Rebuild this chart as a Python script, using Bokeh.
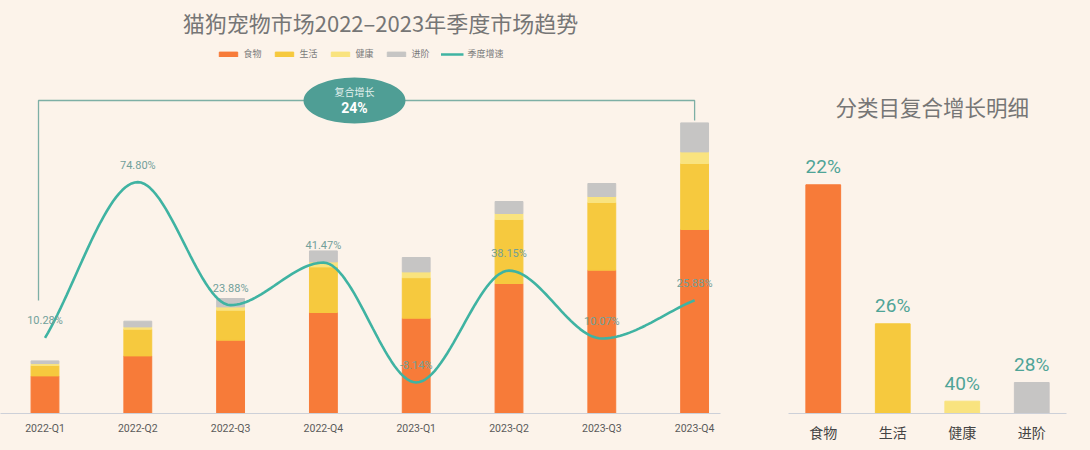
from bokeh.plotting import figure
from bokeh.models import ColumnDataSource, Range1d, FixedTicker, FactorRange
from bokeh.layouts import row
from bokeh.core.properties import value
from bokeh.embed import file_html
from bokeh.resources import INLINE

# ---------------- data ----------------
quarters = ["2022-Q1", "2022-Q2", "2022-Q3", "2022-Q4",
            "2023-Q1", "2023-Q2", "2023-Q3", "2023-Q4"]
food = [37.6, 57.6, 73.3, 101.0, 95.3, 130.0, 143.3, 184.0]
life = [10.4, 26.7, 30.0, 45.6, 40.5, 64.0, 67.7, 66.0]
health = [2.0, 2.3, 3.3, 5.0, 5.8, 6.0, 6.0, 11.6]
advanced = [2.6, 5.7, 8.4, 11.0, 14.4, 12.0, 13.0, 29.0]
growth = [10.28, 74.80, 23.88, 41.47, -8.14, 38.15, 10.07, 25.88]
growth_labels = ["10.28%", "74.80%", "23.88%", "41.47%", "-8.14%", "38.15%", "10.07%", "25.88%"]
series_names = ["食物", "生活", "健康", "进阶"]
line_name = "季度增速"
cagr_title = "复合增长"
cagr_value = "24%"

cat_names = ["食物", "生活", "健康", "进阶"]
cat_share = [228.7, 89.7, 12.3, 31.0]
cat_cagr = ["22%", "26%", "40%", "28%"]

title_left = "猫狗宠物市场2022–2023年季度市场趋势"
title_right = "分类目复合增长明细"

# ---------------- style ----------------
BG = "#FCF3EA"
COLORS = ["#F77B39", "#F6C93E", "#F9E37F", "#C6C5C4"]
TEAL = "#3FB3A2"
LABEL_TEAL = "#72A09A"
CJK = value("Noto Sans CJK SC")

idx = list(range(len(quarters)))
totals = [a + b + c + d for a, b, c, d in zip(food, life, health, advanced)]


def monotone_path(xs, ys, n=30):
    """Smooth monotone cubic (Fritsch-Carlson) path through the data points."""
    k = len(xs)
    d = [(ys[i + 1] - ys[i]) / (xs[i + 1] - xs[i]) for i in range(k - 1)]
    m = [0.0] * k
    m[0] = d[0]
    m[-1] = d[-1]
    for i in range(1, k - 1):
        if d[i - 1] * d[i] <= 0:
            m[i] = 0.0
        else:
            m[i] = 2.0 / (1.0 / d[i - 1] + 1.0 / d[i])
    px, py = [], []
    for i in range(k - 1):
        h = xs[i + 1] - xs[i]
        for j in range(n):
            t = j / n
            h00 = 2 * t**3 - 3 * t**2 + 1
            h10 = t**3 - 2 * t**2 + t
            h01 = -2 * t**3 + 3 * t**2
            h11 = t**3 - t**2
            px.append(xs[i] + t * h)
            py.append(h00 * ys[i] + h10 * h * m[i] + h01 * ys[i + 1] + h11 * h * m[i + 1])
    px.append(xs[-1])
    py.append(ys[-1])
    return px, py


# ---------------- left chart ----------------
left = figure(width=758, height=450,
              x_range=Range1d(-0.4795, 7.279), y_range=Range1d(0, 413),
              y_axis_location=None,
              output_backend="svg", toolbar_location=None,
              min_border_left=0, min_border_right=38,
              min_border_top=0, min_border_bottom=37,
              background_fill_color=BG, border_fill_color=BG,
              outline_line_color=None)
left.extra_y_ranges = {"g": Range1d(-21.0, 150.0)}
left.xgrid.visible = False
left.ygrid.visible = False

src = ColumnDataSource(dict(x=idx, food=food, life=life, health=health, adv=advanced))
left.vbar_stack(["food", "life", "health", "adv"], x="x", width=0.30,
                color=COLORS, source=src, legend_label=series_names)

sx, sy = monotone_path(idx, growth)
left.line(sx, sy, y_range_name="g", line_color=TEAL, line_width=2.6,
          legend_label=line_name)

left.text(x=idx, y=growth, text=growth_labels, y_range_name="g",
          y_offset=-17, text_align="center", text_baseline="middle",
          text_font=value("Roboto"), text_font_size="11px", text_color=LABEL_TEAL)

# bracket for compound growth
by = max(totals) + 22.4
bx0 = idx[0] - 0.07
bx1 = idx[-1]
left.line([bx0, bx0, bx1, bx1], [by - 200, by, by, totals[-1] + 2.4],
          line_color="#7DAFA5", line_width=1.3)
ex = 3.335
left.ellipse(x=[ex], y=[by], width=102, height=46,
             width_units="screen", height_units="screen",
             fill_color="#4F9E95", line_color=None)
left.text(x=[ex], y=[by], text=[cagr_title], y_offset=-9,
          text_align="center", text_baseline="middle",
          text_font=CJK, text_font_size="10px", text_color="#E4F1EE")
left.text(x=[ex], y=[by], text=[cagr_value], y_offset=7,
          text_align="center", text_baseline="middle",
          text_font=value("Roboto"), text_font_size="14px",
          text_font_style="bold", text_color="#FFFFFF")

# title
left.text(x=[3.615], y=[391.3], text=[title_left],
          text_align="center", text_baseline="middle",
          text_font=CJK, text_font_size="22px", text_color="#767676")

# axis
left.xaxis.ticker = FixedTicker(ticks=idx)
left.xaxis.major_label_overrides = {i: q for i, q in zip(idx, quarters)}
left.xaxis.axis_line_color = "#CDD0D8"
left.xaxis.axis_line_width = 1
left.xaxis.major_tick_line_color = None
left.xaxis.major_tick_out = 0
left.xaxis.major_tick_in = 0
left.xaxis.minor_tick_line_color = None
left.xaxis.major_label_standoff = 8
left.xaxis.major_label_text_font = "Roboto"
left.xaxis.major_label_text_font_size = "10.5px"
left.xaxis.major_label_text_color = "#5A5A5A"

# legend
lg = left.legend[0]
lg.orientation = "horizontal"
lg.location = "top_center"
lg.margin = 47
lg.padding = 0
lg.spacing = 9
lg.glyph_width = 23
lg.glyph_height = 6
lg.label_standoff = 4
lg.label_text_font = "Noto Sans CJK SC"
lg.label_text_font_size = "9px"
lg.label_text_color = "#7A7A7A"
lg.background_fill_alpha = 0
lg.border_line_alpha = 0

# ---------------- right chart ----------------
right = figure(width=332, height=450,
               x_range=FactorRange(*cat_names), y_range=Range1d(0, 413),
               y_axis_location=None,
               output_backend="svg", toolbar_location=None,
               min_border_left=30, min_border_right=24,
               min_border_top=0, min_border_bottom=37,
               background_fill_color=BG, border_fill_color=BG,
               outline_line_color=None)
right.xgrid.visible = False
right.ygrid.visible = False

rsrc = ColumnDataSource(dict(x=cat_names, top=cat_share, c=COLORS, lab=cat_cagr))
right.vbar(x="x", top="top", width=0.5, color="c", source=rsrc)
right.text(x="x", y="top", text="lab", source=rsrc, y_offset=-18,
           text_align="center", text_baseline="middle",
           text_font=value("Roboto"), text_font_size="19px", text_color="#4FA497")
right.text(x=["健康"], y=[307], text=[title_right], x_offset=-30,
           text_align="center", text_baseline="middle",
           text_font=CJK, text_font_size="21.5px", text_color="#767676")

right.xaxis.axis_line_color = "#CDD0D8"
right.xaxis.major_tick_line_color = None
right.xaxis.major_tick_out = 0
right.xaxis.major_tick_in = 0
right.xaxis.minor_tick_line_color = None
right.xaxis.major_label_standoff = 8
right.xaxis.major_label_text_font = "Noto Sans CJK SC"
right.xaxis.major_label_text_font_size = "14px"
right.xaxis.major_label_text_color = "#444444"

layout = row(left, right, spacing=0, styles={"background-color": BG})

html = file_html(layout, INLINE, title="猫狗宠物市场")
open("out.html", "w").write(html)
